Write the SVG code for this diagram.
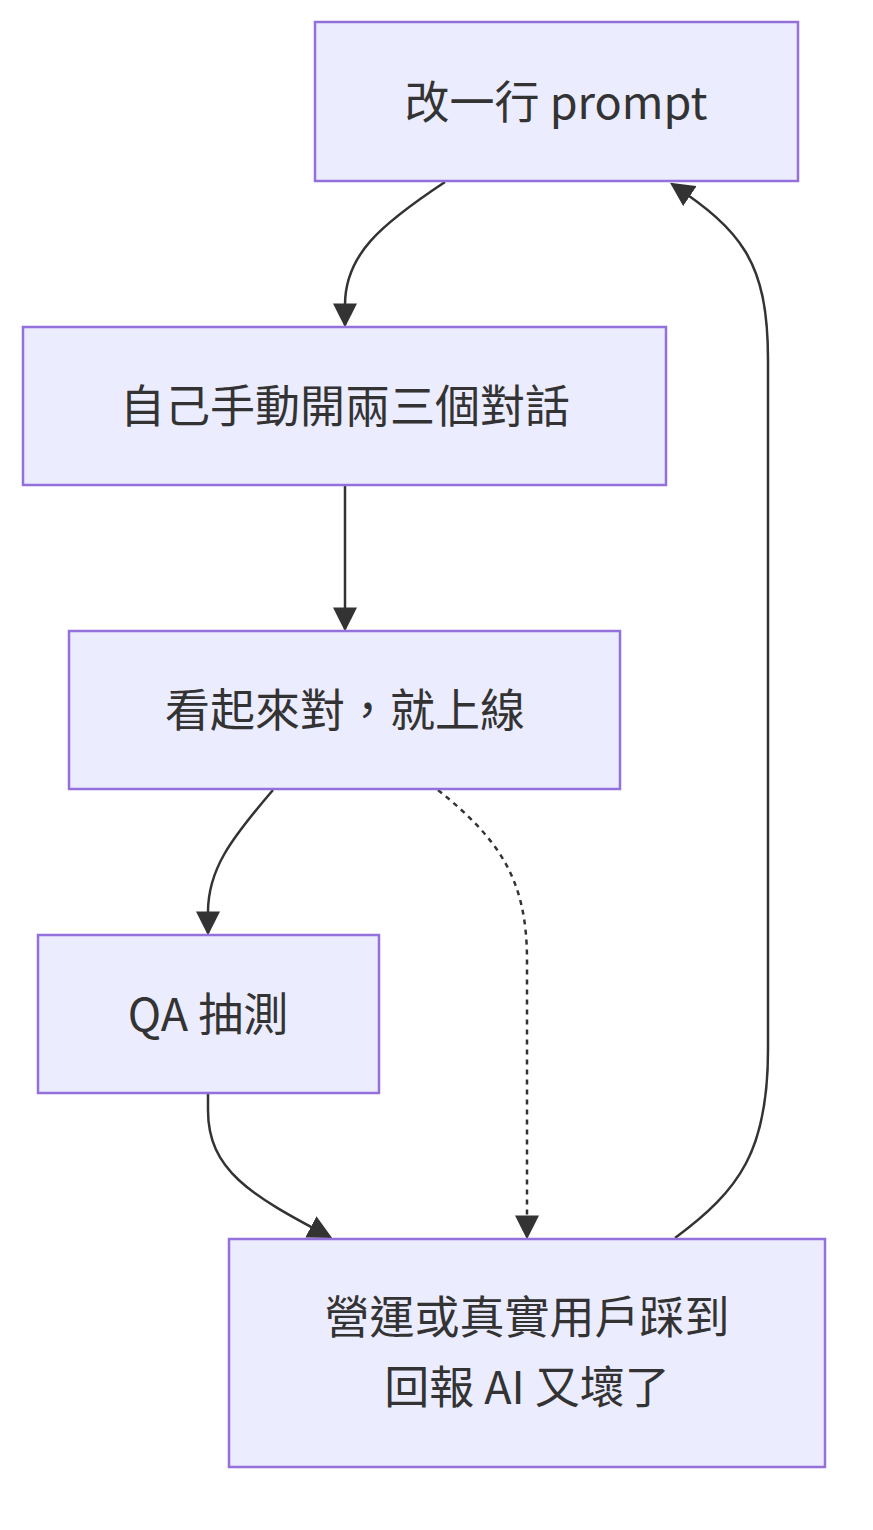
<svg xmlns="http://www.w3.org/2000/svg" width="873" height="1530" viewBox="0 0 873 1530">
<style>
.n rect{fill:#ECECFF;stroke:#9370DB;stroke-width:2.5}
.n text{font-family:"Noto Sans CJK TC","Noto Sans",sans-serif;font-size:45px;fill:#333;text-anchor:middle;dominant-baseline:central}
.e path{fill:none;stroke:#333;stroke-width:2.5}
.d{stroke-dasharray:5 5}
</style>
<defs><marker id="b" viewBox="0 0 10 10" refX="9" refY="5" markerWidth="24" markerHeight="24" markerUnits="userSpaceOnUse" orient="auto"><path d="M0,0L10,5L0,10z" fill="#333"/></marker></defs>
<g class="e">
<path d="M445,182 C380,225 345,255 345,305 L345,325" marker-end="url(#b)"/>
<path d="M345,486 L345,629" marker-end="url(#b)"/>
<path d="M273,790 C230,840 208,870 208,912 L208,933" marker-end="url(#b)"/>
<path class="d" d="M438,790 C500,840 527,880 527,960 L527,1237" marker-end="url(#b)"/>
<path d="M208,1094 L208,1110 C208,1170 250,1195 330,1237" marker-end="url(#b)"/>
<path d="M675,1238 C740,1190 768,1150 768,1050 L768,360 C768,260 740,230 672,184" marker-end="url(#b)"/>
</g>
<g id="n1" class="n"><rect x="315" y="22" width="483" height="159"/><text x="556" y="99">改一行 prompt</text></g>
<g id="n2" class="n"><rect x="23" y="327" width="643" height="158"/><text x="345" y="403">自己手動開兩三個對話</text></g>
<g id="n3" class="n"><rect x="69" y="631" width="551" height="158"/><text x="345" y="707">看起來對，就上線</text></g>
<g id="n4" class="n"><rect x="38" y="935" width="341" height="158"/><text x="208" y="1011">QA 抽測</text></g>
<g id="n5" class="n"><rect x="229" y="1239" width="596" height="228"/><text x="527" y="1314">營運或真實用戶踩到</text><text x="527" y="1384">回報 AI 又壞了</text></g>
</svg>
